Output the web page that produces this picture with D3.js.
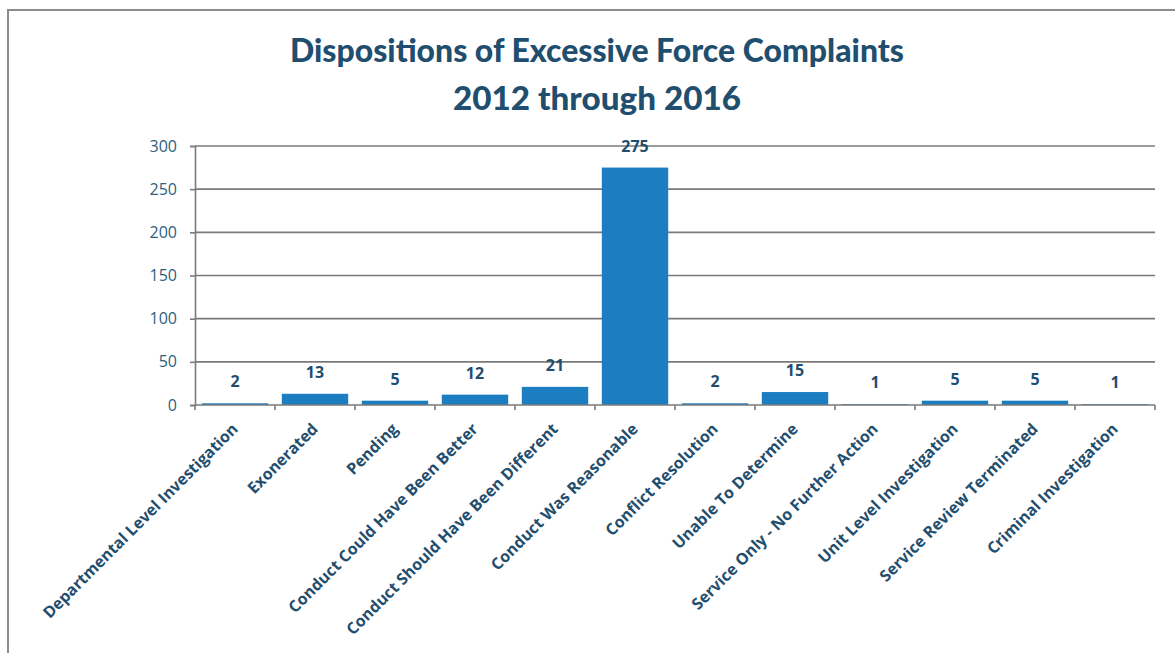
<!DOCTYPE html>
<html>
<head>
<meta charset="utf-8">
<script src="https://cdn.jsdelivr.net/npm/d3@7"></script>
<style>
  html, body { margin: 0; padding: 0; background: #fff; }
  svg { display: block; }
</style>
</head>
<body>
<div id="chart"></div>
<script>
// chart data
const categories = [
  "Departmental Level Investigation",
  "Exonerated",
  "Pending",
  "Conduct Could Have Been Better",
  "Conduct Should Have Been Different",
  "Conduct Was Reasonable",
  "Conflict Resolution",
  "Unable To Determine",
  "Service Only - No Further Action",
  "Unit Level Investigation",
  "Service Review Terminated",
  "Criminal Investigation"
];
const counts = [2, 13, 5, 12, 21, 275, 2, 15, 1, 5, 5, 1];
const yTicks = [0, 50, 100, 150, 200, 250, 300];
const titleLines = ["Dispositions of Excessive Force Complaints", "2012 through 2016"];

const width = 1175;
const height = 653;
const margin = { top: 146, right: 20, bottom: 248, left: 195 };
const plotW = 960;
const plotH = height - margin.top - margin.bottom;

const textColor = "#1f4e6e";
const barColor = "#1c7dc1";
const gridColor = "#7a7a7a";

const svg = d3.select("#chart")
  .append("svg")
  .attr("width", width)
  .attr("height", height);

// outer frame (runs off the right and bottom of the picture)
svg.append("rect")
  .attr("x", 8)
  .attr("y", 10)
  .attr("width", width)
  .attr("height", height)
  .attr("fill", "none")
  .attr("stroke", "#8c8c8c")
  .attr("stroke-width", 2);

// title
svg.selectAll(".title")
  .data(titleLines)
  .enter()
  .append("text")
  .attr("class", "title")
  .attr("x", 597)
  .attr("y", (d, i) => 62 + i * 48)
  .attr("text-anchor", "middle")
  .attr("textLength", (d, i) => i === 0 ? 614 : 288)
  .attr("lengthAdjust", "spacingAndGlyphs")
  .style("font-family", "Lato, 'Open Sans', sans-serif")
  .style("font-weight", "900")
  .style("font-size", "32px")
  .style("fill", textColor)
  .text(d => d);

const g = svg.append("g")
  .attr("transform", `translate(${margin.left},${margin.top})`);

const x = d3.scaleBand()
  .domain(categories)
  .range([0, plotW])
  .paddingInner(0.17)
  .paddingOuter(0.085);

const y = d3.scaleLinear()
  .domain([0, 300])
  .range([plotH, 0]);

// gridlines + y axis
const yAxis = g.append("g")
  .call(d3.axisLeft(y).tickValues(yTicks).tickSize(5).tickPadding(13));
yAxis.select(".domain").attr("stroke", gridColor).attr("stroke-width", 1.6);
yAxis.selectAll(".tick line").attr("stroke", gridColor).attr("stroke-width", 1.6);
yAxis.selectAll(".tick text")
  .style("font-family", "'Open Sans', sans-serif")
  .style("font-size", "16px")
  .style("fill", "#2c5f7f");

g.append("g")
  .selectAll("line")
  .data(yTicks.filter(t => t > 0))
  .enter()
  .append("line")
  .attr("x1", 0)
  .attr("x2", plotW)
  .attr("y1", d => y(d))
  .attr("y2", d => y(d))
  .attr("stroke", gridColor)
  .attr("stroke-width", 1.6);

// bars
g.selectAll(".bar")
  .data(counts)
  .enter()
  .append("rect")
  .attr("class", "bar")
  .attr("x", (d, i) => x(categories[i]))
  .attr("y", d => y(d))
  .attr("width", x.bandwidth())
  .attr("height", d => plotH - y(d))
  .attr("fill", barColor);

// x axis with ticks between categories
g.append("line")
  .attr("x1", 0)
  .attr("x2", plotW)
  .attr("y1", plotH)
  .attr("y2", plotH)
  .attr("stroke", gridColor)
  .attr("stroke-width", 1.6);

g.selectAll(".xtick")
  .data(d3.range(categories.length + 1))
  .enter()
  .append("line")
  .attr("class", "xtick")
  .attr("x1", i => i * plotW / categories.length)
  .attr("x2", i => i * plotW / categories.length)
  .attr("y1", plotH)
  .attr("y2", plotH + 5)
  .attr("stroke", gridColor)
  .attr("stroke-width", 1.6);

// value labels
g.selectAll(".val")
  .data(counts)
  .enter()
  .append("text")
  .attr("class", "val")
  .attr("x", (d, i) => x(categories[i]) + x.bandwidth() / 2)
  .attr("y", d => y(d) - 16)
  .attr("text-anchor", "middle")
  .style("font-family", "'Open Sans', sans-serif")
  .style("font-weight", "bold")
  .style("font-size", "16px")
  .style("fill", textColor)
  .text(d => d);

// rotated category labels
g.selectAll(".cat")
  .data(categories)
  .enter()
  .append("text")
  .attr("class", "cat")
  .attr("transform", d => `translate(${x(d) + x.bandwidth() / 2 + 4},${plotH + 25}) rotate(-45)`)
  .attr("text-anchor", "end")
  .style("font-family", "'Open Sans', sans-serif")
  .style("font-weight", "bold")
  .style("font-size", "16px")
  .style("fill", textColor)
  .text(d => d);
</script>
</body>
</html>
